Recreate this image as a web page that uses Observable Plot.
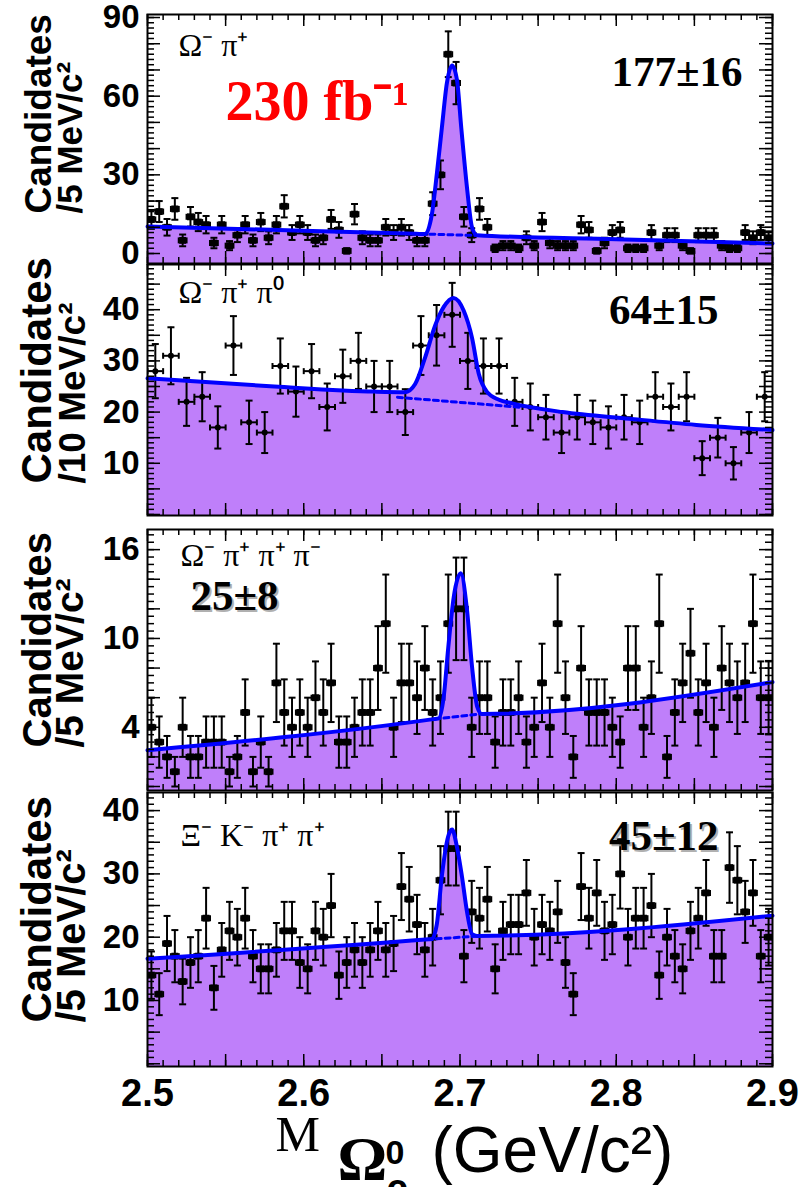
<!DOCTYPE html>
<html>
<head>
<meta charset="utf-8">
<script src="https://cdn.jsdelivr.net/npm/d3@7"></script>
<script src="https://cdn.jsdelivr.net/npm/@observablehq/plot@0.6"></script>
<style>
  html, body { margin: 0; padding: 0; background: #ffffff; }
  #chart { position: relative; width: 805px; height: 1187px; overflow: hidden; background: #ffffff; }
  #chart svg { position: absolute; left: 0; }
</style>
</head>
<body>
<div id="chart"></div>
<script>
// ---------------- DATA ----------------
const xDomain = [2.5, 2.9];
const binWidths = [0.005, 0.010, 0.005, 0.005];

// Panel 1: Omega- pi+  (5 MeV bins)
const counts1 = [13,16,10,17,5,14,12,11,4,11, 3,7,11,5,12,6,11,18,8,11, 8,5,6,13,9,1,15,6,5,5,
                 10,8,10,8,5,5,19,30,76,65, 14,7,17,10,2,3,3,2,6,3, 12,4,3,3,3,11,9,1,4,8,
                 9,2,2,2,8,3,7,7,3,1, 7,7,7,3,2,2,8,6,8,6];
// Panel 2: Omega- pi+ pi0 (10 MeV bins)
const counts2 = [28,31,22,23,17,33,18,16,29,24, 28,21,27,30,25,25,20,33,35,39,
                 30,29,29,22,21,19,16,19,18,17, 19,18,23,21,23,11,15,10,16,23];
// Panel 3: Omega- pi+ pi+ pi- (5 MeV bins)
const counts3 = [4,3,2,1,4,2,2,3,3,3, 1,2,5,1,3,1,7,5,4,5, 4,6,5,7,3,3,4,5,5,8,
                 11,4,7,7,6,8,5,6,11,12, 12,4,6,6,3,5,5,6,3,4, 7,4,11,6,2,8,5,5,5,4,
                 3,8,8,4,6,11,2,5,7,9, 5,7,4,8,7,6,7,11,6,6];
// Panel 4: Xi- K- pi+ pi+ (5 MeV bins)
const counts4 = [14,11,19,17,13,16,17,23,12,18, 21,20,23,17,15,15,18,21,21,16, 15,21,20,25,14,16,18,16,18,21,
                 18,19,28,26,22,18,20,29,34,34, 17,24,23,26,15,21,22,22,27,20, 22,21,24,16,11,28,23,27,21,22,
                 30,20,23,23,25,14,20,17,15,21, 23,27,17,17,31,29,24,27,17,20];

// Fit curves (signal + background): [mass, candidates]
const fit1 = [[2.5,10.3],[2.6,8.7],[2.672,7.5],[2.6777,7.4],[2.682,15],[2.6852,30.5],[2.6884,48],[2.6916,65],
              [2.6949,71.7],[2.6981,66],[2.7008,48],[2.7045,25],[2.7077,10],[2.7109,7.0],[2.8,5.4],[2.9,3.8]];
const fit2 = [[2.5,26.6],[2.5812,25.0],[2.6455,24.0],[2.6648,23.9],[2.6713,25.5],[2.6777,30.7],[2.6841,36.9],
              [2.6895,40.5],[2.6959,42.3],[2.7024,39.8],[2.7077,34.5],[2.712,27.5],[2.7174,23.9],[2.7249,22.4],
              [2.7334,21.7],[2.7656,20.0],[2.8085,18.7],[2.8513,17.5],[2.9,16.5]];
const fit3 = [[2.5,2.45],[2.683,4.55],[2.6863,4.6],[2.6895,6.0],[2.6925,9.4],[2.696,12.8],[2.7005,14.4],
              [2.7045,11.9],[2.7077,8.1],[2.711,5.4],[2.714,4.9],[2.9,7.05]];
const fit4 = [[2.5,16.6],[2.68,19.66],[2.682,19.7],[2.6852,22.1],[2.6884,29.7],[2.6923,35.8],[2.6949,37.0],
              [2.6981,34.2],[2.7013,29.5],[2.7045,24.0],[2.7077,20.5],[2.7109,20.2],[2.9,23.4]];
// Background component (dashed) where visible under the peak
const bkg1 = [[2.675,7.46],[2.712,6.86]];
const bkg2 = [[2.66,22.9],[2.74,20.9]];
const bkg3 = [[2.684,4.56],[2.716,4.93]];
const bkg4 = [[2.679,19.64],[2.713,20.2]];

const yTickLabels1 = [0, 30, 60, 90];
const yTickLabels2 = [10, 20, 30, 40];
const yTickLabels3 = [4, 10, 16];
const yTickLabels4 = [10, 20, 30, 40];
const xTickLabels = [2.5, 2.6, 2.7, 2.8, 2.9];

const channels = ["Ω⁻ π⁺", "Ω⁻ π⁺ π⁰", "Ω⁻ π⁺ π⁺ π⁻", "Ξ⁻ K⁻ π⁺ π⁺"];
const yields = ["177±16", "64±15", "25±8", "45±12"];
const yTitle = "Candidates";
const yUnits = ["/5 MeV/c²", "/10 MeV/c²", "/5 MeV/c²", "/5 MeV/c²"];
const lumiLabel = "230 fb⁻¹";
const xTitleParts = ["M", "Ω", "0", "c", "(GeV/c²)"];

// ---------------- LAYOUT / STYLE ----------------
const W = 805, ML = 147, MR = 33;
const PURPLE = "#bf7ffa", BLUE = "#0000ff";
const SANS = "Liberation Sans", SERIF = "Liberation Serif";

const layout = [
  {top: 0, bottom: 267, frameTop: 14, frameBottom: 263, yDomain: [-3.81, 91.15], yMajor: 10, yMinor: 2,
   marker: "square", titleX: [50, 81], titleBottom: 213, titleSize: [37, 35],
   chan: [178, 55], yieldPos: [742, 85, "end"], shadow: false},
  {top: 258, bottom: 521, frameTop: 264, frameBottom: 515, yDomain: [-0.2, 48.83], yMajor: 5, yMinor: 1,
   marker: "circle", titleX: [50, 84], titleBottom: 483, titleSize: [42, 37],
   chan: [178, 302], yieldPos: [718, 323, "end"], shadow: false},
  {top: 523, bottom: 794, frameTop: 529, frameBottom: 790, yDomain: [-0.27, 17.36], yMajor: 2, yMinor: 0.5,
   marker: "square", titleX: [50, 82], titleBottom: 747, titleSize: [40, 39],
   chan: [180, 565], yieldPos: [190, 609, "start"], shadow: true},
  {top: 786, bottom: 1187, frameTop: 792, frameBottom: 1066, yDomain: [-0.43, 42.86], yMajor: 5, yMinor: 1,
   marker: "square", titleX: [50, 84], titleBottom: 1022, titleSize: [42, 40],
   chan: [180, 845], yieldPos: [718, 849, "end"], shadow: true}
];

const countsList = [counts1, counts2, counts3, counts4];
const fits = [fit1, fit2, fit3, fit4];
const bkgs = [bkg1, bkg2, bkg3, bkg4];
const yTickLabelsList = [yTickLabels1, yTickLabels2, yTickLabels3, yTickLabels4];

// custom stroke-only symbols for error-bar end caps (half-length = r)
const capH = {draw(ctx, size) { const w = Math.sqrt(size / Math.PI); ctx.moveTo(-w, 0); ctx.lineTo(w, 0); }};
const capV = {draw(ctx, size) { const h = Math.sqrt(size / Math.PI); ctx.moveTo(0, -h); ctx.lineTo(0, h); }};

function stepRange(lo, hi, step) {
  const out = [];
  const n0 = Math.ceil(lo / step - 1e-9), n1 = Math.floor(hi / step + 1e-9);
  for (let n = n0; n <= n1; n++) out.push(+(n * step).toFixed(6));
  return out;
}

function makePanel(i) {
  const L = layout[i];
  const bw = binWidths[i];
  const pts = countsList[i].map((c, k) => ({m: xDomain[0] + (k + 0.5) * bw, v: c, e: Math.sqrt(c)}));
  const fit = fits[i].map(([m, v]) => ({m, v}));
  const bkg = bkgs[i].map(([m, v]) => ({m, v}));
  const frameW = W - ML - MR;
  const frameH = L.frameBottom - L.frameTop;
  const yMin = L.yDomain[0];

  // page-coordinate helper for annotations (anchor = top-left corner of frame)
  const at = (X, Y) => ({frameAnchor: "top-left", dx: X - ML, dy: Y - L.frameTop});

  const yMinorT = stepRange(Math.max(0, L.yDomain[0]), L.yDomain[1], L.yMinor);
  const yMajorT = stepRange(Math.max(0, L.yDomain[0]), L.yDomain[1], L.yMajor);
  const xMinorT = stepRange(xDomain[0], xDomain[1], 0.01);
  const xMajorT = stepRange(xDomain[0], xDomain[1], 0.05);

  const tk = {stroke: "black", strokeWidth: 1.5};
  const eb = {stroke: "black", strokeWidth: 2, clip: true};

  const marks = [
    // filled fit
    Plot.areaY(fit, {x: "m", y1: () => yMin, y2: "v", fill: PURPLE, curve: "monotone-x"}),
    // error bars
    Plot.ruleX(pts, {x: "m", y1: d => d.v - d.e, y2: d => d.v + d.e, ...eb}),
    Plot.ruleY(pts, {y: "v", x1: d => d.m - bw / 2, x2: d => d.m + bw / 2, ...eb}),
    Plot.dot(pts, {x: "m", y: d => d.v + d.e, symbol: capH, r: 3.5, fill: "none", ...eb}),
    Plot.dot(pts, {x: "m", y: d => d.v - d.e, symbol: capH, r: 3.5, fill: "none", ...eb}),
    Plot.dot(pts, {x: d => d.m - bw / 2, y: "v", symbol: capV, r: 3, fill: "none", ...eb}),
    Plot.dot(pts, {x: d => d.m + bw / 2, y: "v", symbol: capV, r: 3, fill: "none", ...eb}),
    // markers
    L.marker === "square"
      ? Plot.dot(pts, {x: "m", y: "v", symbol: "square", r: 3.9, fill: "black", stroke: "none", clip: true})
      : Plot.dot(pts, {x: "m", y: "v", symbol: "circle", r: 3, fill: "black", stroke: "none", clip: true}),
    // background (dashed) and total fit
    Plot.line(bkg, {x: "m", y: "v", stroke: BLUE, strokeWidth: 3, strokeDasharray: "5,4"}),
    Plot.line(fit, {x: "m", y: "v", stroke: BLUE, strokeWidth: 4, curve: "monotone-x"}),
    // inner ticks (ROOT style)
    Plot.tickY(yMinorT, {y: d => d, insetRight: frameW - 7, ...tk}),
    Plot.tickY(yMajorT, {y: d => d, insetRight: frameW - 13, ...tk}),
    Plot.tickY(yMinorT, {y: d => d, insetLeft: frameW - 7, ...tk}),
    Plot.tickY(yMajorT, {y: d => d, insetLeft: frameW - 13, ...tk}),
    Plot.tickX(xMinorT, {x: d => d, insetTop: frameH - 6, ...tk}),
    Plot.tickX(xMajorT, {x: d => d, insetTop: frameH - 12, ...tk}),
    Plot.tickX(xMinorT, {x: d => d, insetBottom: frameH - 6, ...tk}),
    Plot.tickX(xMajorT, {x: d => d, insetBottom: frameH - 12, ...tk}),
    Plot.frame({stroke: "black", strokeWidth: 2}),
    // y tick labels
    Plot.axisY({ticks: yTickLabelsList[i], tickSize: 0, tickPadding: 8, label: null,
                tickFormat: d => String(d), fontSize: 33, fontWeight: "bold", fontFamily: SANS, fill: "black"}),
    // y titles (rotated)
    Plot.text([yTitle], {text: d => d, ...at(L.titleX[0], L.titleBottom), rotate: -90, textAnchor: "start",
                lineAnchor: "bottom", fontFamily: SANS, fontWeight: "bold", fontSize: L.titleSize[0], fill: "black"}),
    Plot.text([yUnits[i]], {text: d => d, ...at(L.titleX[1], L.titleBottom), rotate: -90, textAnchor: "start",
                lineAnchor: "bottom", fontFamily: SANS, fontWeight: "bold", fontSize: L.titleSize[1], fill: "black"}),
    // decay channel
    Plot.text([channels[i]], {text: d => d, ...at(L.chan[0], L.chan[1]), textAnchor: "start", lineAnchor: "bottom",
                fontFamily: SERIF, fontSize: 32, fill: "black"})
  ];

  // signal yield (with optional shadow)
  if (L.shadow) {
    marks.push(Plot.text([yields[i]], {text: d => d, ...at(L.yieldPos[0] + 2, L.yieldPos[1] + 2), textAnchor: L.yieldPos[2],
      lineAnchor: "bottom", fontFamily: SERIF, fontWeight: "bold", fontSize: 43, fill: "#9a9a9a", fillOpacity: 0.8}));
  }
  marks.push(Plot.text([yields[i]], {text: d => d, ...at(L.yieldPos[0], L.yieldPos[1]), textAnchor: L.yieldPos[2],
    lineAnchor: "bottom", fontFamily: SERIF, fontWeight: "bold", fontSize: 43, fill: "black"}));

  if (i === 0) {
    marks.push(Plot.text([lumiLabel], {text: d => d, ...at(225, 119), textAnchor: "start", lineAnchor: "bottom",
      fontFamily: SERIF, fontWeight: "bold", fontSize: 56, fill: "#ff0000"}));
  }

  if (i === 3) {
    marks.push(
      Plot.axisX({anchor: "bottom", ticks: xTickLabels, tickSize: 0, tickPadding: 13, label: null,
                  tickFormat: d3.format(".1f"), fontSize: 38, fontWeight: "bold", fontFamily: SANS, fill: "black"}),
      Plot.text([xTitleParts[0]], {text: d => d, ...at(275, 1150), textAnchor: "start", lineAnchor: "bottom",
                  fontFamily: SERIF, fontSize: 50, fill: "black"}),
      Plot.text([xTitleParts[1]], {text: d => d, ...at(337, 1178), textAnchor: "start", lineAnchor: "bottom",
                  fontFamily: SERIF, fontWeight: "bold", fontSize: 62, fill: "black"}),
      Plot.text([xTitleParts[2]], {text: d => d, ...at(385, 1163), textAnchor: "start", lineAnchor: "bottom",
                  fontFamily: SANS, fontWeight: "bold", fontSize: 34, fill: "black"}),
      Plot.text([xTitleParts[3]], {text: d => d, ...at(386, 1200), textAnchor: "start", lineAnchor: "bottom",
                  fontFamily: SANS, fontWeight: "bold", fontSize: 38, fill: "black"}),
      Plot.text([xTitleParts[4]], {text: d => d, ...at(431, 1171), textAnchor: "start", lineAnchor: "bottom",
                  fontFamily: SANS, fontSize: 64, fill: "black"})
    );
  }

  const svg = Plot.plot({
    width: W,
    height: L.bottom - L.top,
    marginLeft: ML,
    marginRight: MR,
    marginTop: L.frameTop - L.top,
    marginBottom: L.bottom - L.frameBottom,
    x: i === 3 ? {domain: xDomain, label: null} : {domain: xDomain, label: null, axis: null},
    y: {domain: L.yDomain, label: null},
    style: {background: "transparent", overflow: "visible", color: "black"},
    marks
  });
  svg.style.top = L.top + "px";
  return svg;
}

const chart = document.getElementById("chart");
for (let i = 0; i < 4; i++) chart.appendChild(makePanel(i));
</script>
</body>
</html>
